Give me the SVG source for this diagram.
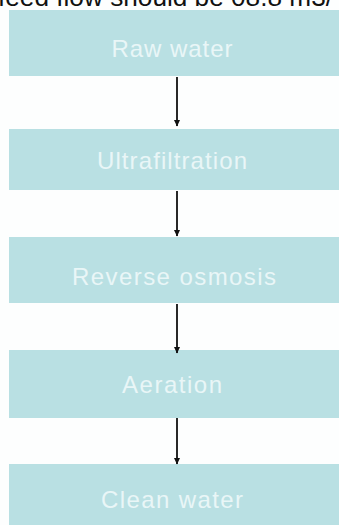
<svg xmlns="http://www.w3.org/2000/svg" width="339" height="525" viewBox="0 0 339 525">
<defs>
<style>
.box{fill:#b9e0e3;}
.lbl{font-family:"Liberation Sans",Arial,sans-serif;font-size:24px;fill:#e9f6f7;text-anchor:middle;}
.arr{stroke:#111;stroke-width:1.8;fill:none;marker-end:url(#ah);}
.top{font-family:"Liberation Sans",Arial,sans-serif;font-size:26px;fill:#111;}
</style>
<marker id="ah" markerWidth="7" markerHeight="7" refX="6" refY="3.5" orient="auto" markerUnits="userSpaceOnUse">
<path d="M0,0.5 L6.5,3.5 L0,6.5 Z" fill="#111"/>
</marker>
</defs>
<rect x="0" y="0" width="339" height="525" fill="#fdfefe"/>
<text class="top" x="-2" y="6" textLength="335" lengthAdjust="spacingAndGlyphs">feed flow should be 08.8 m3/</text>
<g id="raw-water">
<rect class="box" x="9" y="10" width="330" height="66"/>
<text class="lbl" x="172" y="57" textLength="121" lengthAdjust="spacing">Raw water</text>
</g>
<g id="ultrafiltration">
<rect class="box" x="9" y="129" width="330" height="61"/>
<text class="lbl" x="172" y="169" textLength="150" lengthAdjust="spacing">Ultrafiltration</text>
</g>
<g id="reverse-osmosis">
<rect class="box" x="9" y="237" width="330" height="66"/>
<text class="lbl" x="174" y="285" textLength="204" lengthAdjust="spacing">Reverse osmosis</text>
</g>
<g id="aeration">
<rect class="box" x="9" y="350" width="330" height="68"/>
<text class="lbl" x="172" y="393" textLength="100" lengthAdjust="spacing">Aeration</text>
</g>
<g id="clean-water">
<rect class="box" x="9" y="464" width="330" height="61"/>
<text class="lbl" x="172" y="508" textLength="142" lengthAdjust="spacing">Clean water</text>
</g>
<g id="connectors">
<line class="arr" x1="177" y1="77" x2="177" y2="126"/>
<line class="arr" x1="177" y1="191" x2="177" y2="236"/>
<line class="arr" x1="177" y1="304" x2="177" y2="353"/>
<line class="arr" x1="177" y1="418" x2="177" y2="464"/>
</g>
</svg>
